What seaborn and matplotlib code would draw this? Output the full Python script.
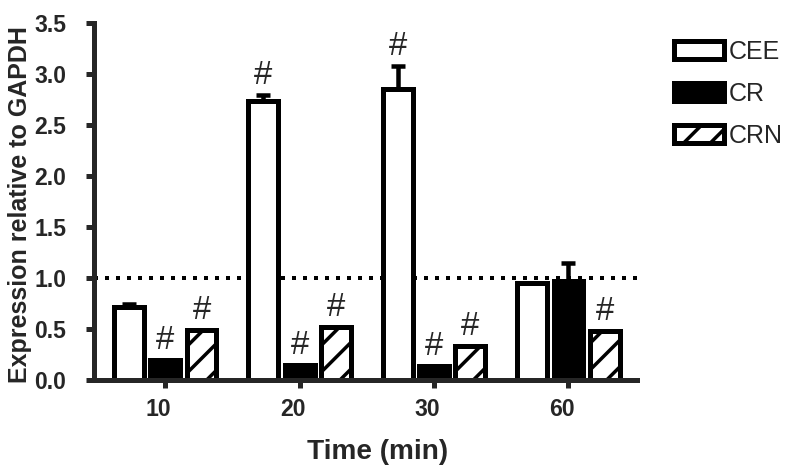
import matplotlib
matplotlib.use("Agg")
import matplotlib.pyplot as plt
import matplotlib.transforms as mtransforms
import seaborn as sns
import pandas as pd
import numpy as np
from matplotlib.patches import Patch

times = ["10", "20", "30", "60"]
groups = ["CEE", "CR", "CRN"]
cee = [0.72, 2.74, 2.85, 0.95]
cee_err = [0.03, 0.05, 0.23, 0.0]
cr = [0.20, 0.15, 0.14, 0.97]
cr_err = [0.0, 0.0, 0.0, 0.18]
crn = [0.49, 0.52, 0.33, 0.48]
crn_err = [0.0, 0.0, 0.0, 0.0]
sig_cee = [False, True, True, False]
sig_cr = [True, True, True, False]
sig_crn = [True, True, True, True]

DPI = 80
def P(px):
    return px * 72.0 / DPI

sns.set_style("ticks")
plt.rcParams['font.family'] = ['Liberation Sans', 'DejaVu Sans']
plt.rcParams['hatch.linewidth'] = P(3.5)
plt.rcParams['hatch.color'] = 'black'

rows = []
for g, vals, errs, sig in [("CEE", cee, cee_err, sig_cee), ("CR", cr, cr_err, sig_cr), ("CRN", crn, crn_err, sig_crn)]:
    for t, v, e, s in zip(times, vals, errs, sig):
        rows.append(dict(Time=t, Group=g, Value=v, Err=e, Sig=s))
df = pd.DataFrame(rows)

W, H = 800, 474
fig = plt.figure(figsize=(W / DPI, H / DPI), dpi=DPI)
ax_l, ax_r, ax_t, ax_b = 94, 637, 23, 380
ax = fig.add_axes([ax_l / W, 1 - ax_b / H, (ax_r - ax_l) / W, (ax_b - ax_t) / H])

palette = {"CEE": "white", "CR": "black", "CRN": "white"}
sns.barplot(data=df, x="Time", y="Value", hue="Group", order=times, hue_order=groups,
            palette=palette, width=0.81, gap=0.18, errorbar=None, ax=ax,
            edgecolor="black", linewidth=P(5), legend=False)

for gi, g in enumerate(groups):
    sub = df[df.Group == g].set_index("Time").loc[times]
    cont = ax.containers[gi]
    for bar, (t, r) in zip(cont, sub.iterrows()):
        x = bar.get_x() + bar.get_width() / 2
        h = bar.get_height()
        if g == "CRN":
            bar.set_hatch("/")
        if r.Err > 0:
            ax.errorbar([x], [h], yerr=[[0], [r.Err]], fmt="none", ecolor="black",
                        elinewidth=P(4.5), capsize=P(7), capthick=P(4.5), zorder=1)
        if r.Sig:
            ax.text(x, h + r.Err + 0.04, "#", ha="center", va="bottom", fontsize=P(33))

ax.axhline(1.0, color="black", linestyle=(0, (1, 1.75)), linewidth=P(4), zorder=0)

ax.set_xlim(-0.53, 3.51)
ax.set_ylim(0, 3.5)
yt = np.arange(0, 3.51, 0.5)
ax.set_yticks(yt)
ax.set_yticklabels([f"{v:.1f}" for v in yt])
ax.tick_params(axis="both", width=P(5), length=P(8), labelsize=P(23))
ax.tick_params(axis="y", pad=P(20))
ax.tick_params(axis="x", pad=P(10))
for lab in ax.get_xticklabels() + ax.get_yticklabels():
    lab.set_fontweight("bold")
off = mtransforms.ScaledTranslation(-7 / DPI, 0, fig.dpi_scale_trans)
for lab in ax.get_xticklabels():
    lab.set_transform(lab.get_transform() + off)
for s in ["left", "bottom"]:
    ax.spines[s].set_linewidth(P(5))
sns.despine(ax=ax)

ax.set_xlabel("Time (min)", fontsize=P(28), fontweight="bold", va="center")
ax.xaxis.set_label_coords((378 - ax_l) / (ax_r - ax_l), -(452 - ax_b) / (ax_b - ax_t))
ax.set_ylabel("Expression relative to GAPDH", fontsize=P(25), fontweight="bold", va="center")
ax.yaxis.set_label_coords(-(ax_l - 20) / (ax_r - ax_l), (ax_b - 205) / (ax_b - ax_t))

handles = [Patch(facecolor="white", edgecolor="black", linewidth=P(5)),
           Patch(facecolor="black", edgecolor="black", linewidth=P(5)),
           Patch(facecolor="white", edgecolor="black", linewidth=P(5), hatch="/")]
fig.legend(handles, groups, loc="upper left", bbox_to_anchor=(674 / W, 1 - 40 / H), frameon=False,
           fontsize=P(25), handlelength=2.0, handleheight=0.75, handletextpad=0.2,
           labelspacing=0.72, borderpad=0, borderaxespad=0)

fig.savefig("out.png", dpi=DPI)
